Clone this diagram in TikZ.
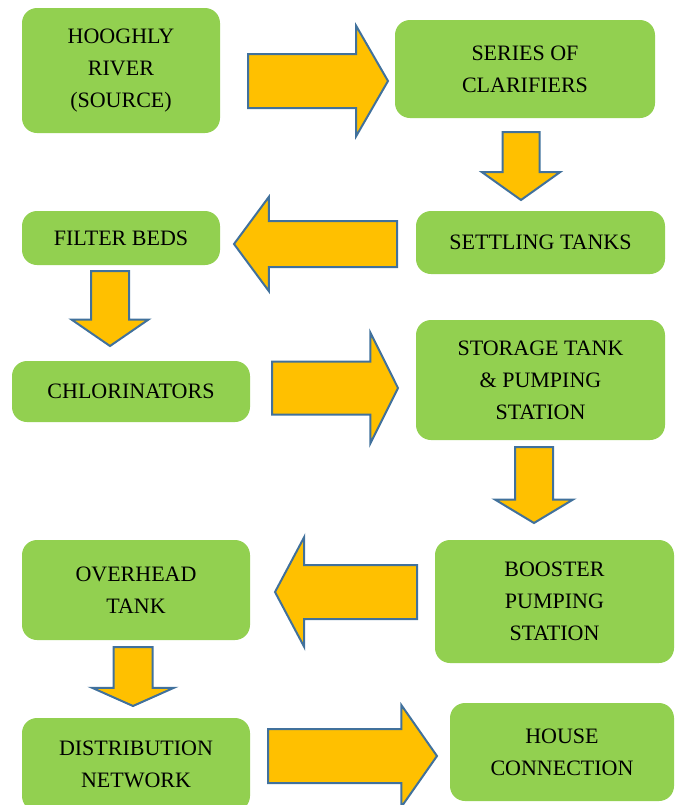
\documentclass[tikz,border=0pt]{standalone}
\usepackage{fontspec}
\setmainfont{Liberation Serif}
\usetikzlibrary{shapes.arrows,positioning}

\definecolor{stagegreen}{HTML}{92D050}
\definecolor{flowfill}{HTML}{FFC000}
\definecolor{flowline}{HTML}{41719C}

\begin{document}
\begin{tikzpicture}[x=0.5pt, y=-0.5pt,
  stage/.style={fill=stagegreen, rounded corners=7.5pt, align=center, inner sep=0pt,
    font=\fontsize{11}{16}\selectfont},
  flow/.style={single arrow, draw=flowline, fill=flowfill, line width=1pt,
    inner xsep=0pt, outer sep=0pt, minimum width=0pt, anchor=tip}]
  \useasboundingbox (0,0) rectangle (676,805);
  \clip (0,0) rectangle (676,805);

  % stages
  \node[stage, minimum width=99pt, minimum height=62.5pt] (river) at (121,70.5) {HOOGHLY\\RIVER\\(SOURCE)};
  \node[stage, minimum width=130pt, minimum height=49pt] (clarif) at (525,69) {SERIES OF\\CLARIFIERS};
  \node[stage, minimum width=124.5pt, minimum height=31.5pt] (settle) at (540.5,242.5) {SETTLING TANKS};
  \node[stage, minimum width=99pt, minimum height=27pt] (filter) at (121,238) {FILTER BEDS};
  \node[stage, minimum width=119pt, minimum height=30.5pt] (chlor) at (131,391.5) {CHLORINATORS};
  \node[stage, minimum width=124.5pt, minimum height=60pt] (storage) at (540.5,380) {STORAGE TANK\\\& PUMPING\\STATION};
  \node[stage, minimum width=119.5pt, minimum height=61.5pt] (booster) at (554.5,601.5) {BOOSTER\\PUMPING\\STATION};
  \node[stage, minimum width=114pt, minimum height=50pt] (overhead) at (136,590) {OVERHEAD\\TANK};
  \node[stage, minimum width=114pt, minimum height=46.5pt] (distrib) at (136,764.5) {DISTRIBUTION\\NETWORK};
  \node[stage, minimum width=112pt, minimum height=49pt] (house) at (562,752) {HOUSE\\CONNECTION};

  % block arrows between stages (placed by their tips)
  \node[flow, inner ysep=13pt, single arrow head extend=14pt, single arrow tip angle=120,
    minimum height=70pt] (a1) at (388,81) {};
  \node[flow, rotate=-90, inner ysep=8.75pt, single arrow head extend=10.25pt, single arrow tip angle=109,
    minimum height=34pt] (a2) at (521,200) {};
  \node[flow, rotate=180, inner ysep=11pt, single arrow head extend=12pt, single arrow tip angle=107,
    minimum height=81.5pt] (a3) at (234,244) {};
  \node[flow, rotate=-90, inner ysep=9pt, single arrow head extend=9.75pt, single arrow tip angle=111,
    minimum height=37.5pt] (a4) at (110,346) {};
  \node[flow, inner ysep=12.75pt, single arrow head extend=14.5pt, single arrow tip angle=127,
    minimum height=63pt] (a5) at (398,388) {};
  \node[flow, rotate=-90, inner ysep=9pt, single arrow head extend=10pt, single arrow tip angle=118,
    minimum height=38pt] (a6) at (534,523) {};
  \node[flow, rotate=180, inner ysep=13pt, single arrow head extend=14pt, single arrow tip angle=124,
    minimum height=71pt] (a7) at (275,592) {};
  \node[flow, rotate=-90, inner ysep=9.25pt, single arrow head extend=10.75pt, single arrow tip angle=132,
    minimum height=29.5pt] (a8) at (133,706) {};
  \node[flow, inner ysep=13pt, single arrow head extend=12pt, single arrow tip angle=110,
    minimum height=84.5pt] (a9) at (437,756) {};
\end{tikzpicture}
\end{document}
